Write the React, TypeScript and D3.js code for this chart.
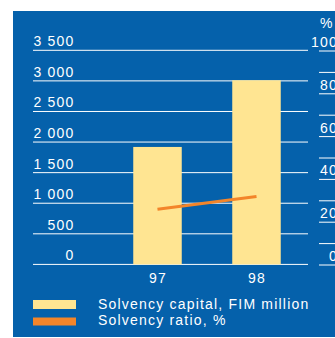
import React from "react";
import * as d3 from "d3";

const categories = ["97", "98"];
const solvencyCapital = [1920, 3010];
const solvencyRatio = [26, 32];
const leftTicks = [0, 500, 1000, 1500, 2000, 2500, 3000, 3500];
const rightLines = [0, 10, 20, 30, 40, 50, 60, 70, 80, 90, 100];
const rightLabels = [0, 20, 40, 60, 80, 100];
const legendLabels = ["Solvency capital, FIM million", "Solvency ratio, %"];

const W = 335;
const H = 338;
const BLUE = "#0561ab";
const YELLOW = "#ffe592";
const ORANGE = "#f3852a";
const FONT = "'Liberation Sans', Arial, sans-serif";

export default function App() {
  const yL = d3.scaleLinear().domain([0, 3500]).range([264.4, 50.3]);
  const yR = d3.scaleLinear().domain([0, 100]).range([265, 51]);
  const x = d3
    .scaleBand<string>()
    .domain(categories)
    .range([108, 306])
    .paddingInner(0.51)
    .paddingOuter(0.255);
  const bw = x.bandwidth();
  const cx = (c: string) => (x(c) as number) + bw / 2;

  const line = d3
    .line<number>()
    .x((_, i) => cx(categories[i]))
    .y((d) => yR(d));

  const fmt = (v: number) => d3.format(",")(v).replace(",", " ");
  const textStyle = { fontFamily: FONT, fontSize: 14, letterSpacing: 1.2 };

  return (
    <svg
      width={W}
      height={H}
      style={{ position: "absolute", left: 0, top: 0 }}
    >
      <rect x={13} y={11} width={W - 13} height={326} fill={BLUE} />
      {leftTicks.map((t) => (
        <g key={"l" + t}>
          <line x1={33} x2={308} y1={yL(t)} y2={yL(t)} stroke="#ffffff" strokeWidth={1} />
          <text x={74.5} y={yL(t) - 4} textAnchor="end" fill="#ffffff" style={textStyle}>
            {fmt(t)}
          </text>
        </g>
      ))}
      {rightLines.map((t) => (
        <line key={"r" + t} x1={319} x2={W} y1={yR(t)} y2={yR(t)} stroke="#ffffff" strokeWidth={1} />
      ))}
      {rightLabels.map((t) => (
        <text key={"rl" + t} x={338} y={yR(t) - 4} textAnchor="end" fill="#ffffff" style={textStyle}>
          {t}
        </text>
      ))}
      <text x={320} y={27.5} fill="#ffffff" style={textStyle}>
        %
      </text>
      {categories.map((c, i) => (
        <rect
          key={"b" + c}
          x={x(c)}
          y={yL(solvencyCapital[i])}
          width={bw}
          height={yL(0) - yL(solvencyCapital[i])}
          fill={YELLOW}
        />
      ))}
      <path d={line(solvencyRatio) || ""} fill="none" stroke={ORANGE} strokeWidth={3} />
      {categories.map((c) => (
        <text key={"c" + c} x={cx(c) + 0.6} y={283} textAnchor="middle" fill="#ffffff" style={textStyle}>
          {c}
        </text>
      ))}
      <rect x={33} y={300} width={43} height={9} fill={YELLOW} />
      <rect x={33} y={317.5} width={43} height={8} fill={ORANGE} />
      <text x={98} y={309} fill="#ffffff" style={textStyle}>
        {legendLabels[0]}
      </text>
      <text x={98} y={324.5} fill="#ffffff" style={textStyle}>
        {legendLabels[1]}
      </text>
    </svg>
  );
}
